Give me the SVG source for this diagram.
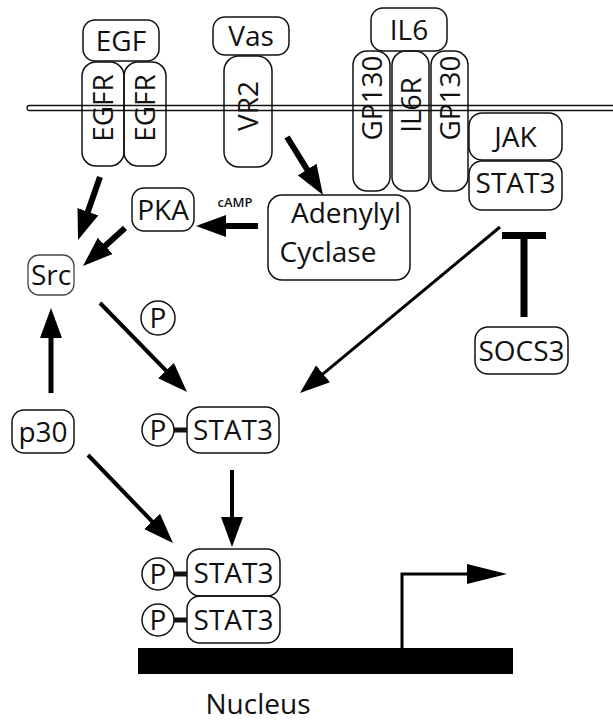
<svg xmlns="http://www.w3.org/2000/svg" width="613" height="721" viewBox="0 0 613 721">
<defs>
<style>
.b{fill:none;stroke:#111;stroke-width:1.5}
.t{font-family:"Open Sans","Liberation Sans",sans-serif;font-size:28px;fill:#111;text-anchor:middle}
.c{fill:#fff;stroke:#111;stroke-width:1.5}
.a{fill:none;stroke:#000;marker-end:url(#ah)}
</style>
<marker id="ah" viewBox="0 0 30 22" markerWidth="30" markerHeight="22" refX="20" refY="11" orient="auto" markerUnits="userSpaceOnUse"><path d="M0,0 L30,11 L0,22 z" fill="#000"/></marker>
<marker id="ah2" viewBox="0 0 40 20" markerWidth="40" markerHeight="20" refX="30" refY="10" orient="auto" markerUnits="userSpaceOnUse"><path d="M0,0 L40,10 L0,20 z" fill="#000"/></marker>
</defs>
<rect width="613" height="721" fill="#fff"/>
<g id="membrane"><rect x="27" y="105.5" width="600" height="5" rx="2.5" fill="#fff" stroke="#111" stroke-width="1.3"/></g>
<g id="EGF"><rect class="b" x="83" y="20" width="76" height="41" rx="12"/><text class="t" x="121" y="50.5">EGF</text></g>
<g id="EGFR1"><rect class="b" x="82" y="62" width="42" height="104" rx="14"/><text class="t" transform="translate(103,108) rotate(-90)" y="10">EGFR</text></g>
<g id="EGFR2"><rect class="b" x="124" y="62" width="42" height="104" rx="14"/><text class="t" transform="translate(145,108) rotate(-90)" y="10">EGFR</text></g>
<g id="Vas"><rect class="b" x="213" y="17" width="76" height="38" rx="12"/><text class="t" x="251" y="46">Vas</text></g>
<g id="VR2"><rect class="b" x="224" y="56" width="48" height="111" rx="15"/><text class="t" transform="translate(248,106) rotate(-90)" y="10">VR2</text></g>
<g id="IL6"><rect class="b" x="371" y="8" width="76" height="43" rx="12"/><text class="t" x="409" y="39.5">IL6</text></g>
<g id="GP130a"><rect class="b" x="353" y="51" width="37" height="140" rx="14"/><text class="t" transform="translate(371.5,98) rotate(-90)" y="10">GP130</text></g>
<g id="IL6R"><rect class="b" x="392" y="51" width="37" height="140" rx="14"/><text class="t" transform="translate(410.5,105) rotate(-90)" y="10">IL6R</text></g>
<g id="GP130b"><rect class="b" x="431" y="51" width="37" height="140" rx="14"/><text class="t" transform="translate(449.5,98) rotate(-90)" y="10">GP130</text></g>
<g id="JAK"><rect class="b" x="469" y="113" width="93" height="47" rx="13"/><text class="t" x="515.5" y="146.5">JAK</text></g>
<g id="STAT3top"><rect class="b" x="469" y="161" width="93" height="49" rx="13"/><text class="t" x="515.5" y="193">STAT3</text></g>
<g id="PKA"><rect class="b" x="132" y="188" width="62" height="43" rx="12"/><text class="t" x="163" y="219.5">PKA</text></g>
<g id="cAMP"><text x="235" y="207" font-family="'Open Sans','Liberation Sans',sans-serif" font-size="13" font-weight="600" text-anchor="middle" fill="#111">cAMP</text></g>
<g id="Adenylyl"><rect class="b" x="268" y="195" width="142" height="85" rx="14"/><text class="t" x="346" y="223">Adenylyl</text><text class="t" x="328" y="262">Cyclase</text></g>
<g id="Src"><rect x="28" y="255" width="46" height="40" rx="11" fill="none" stroke="#444" stroke-width="1.3"/><text class="t" x="51" y="285">Src</text></g>
<g id="P1"><circle class="c" cx="158" cy="318" r="17"/><text class="t" x="158" y="328">P</text></g>
<g id="p30"><rect class="b" x="12" y="410" width="62" height="43" rx="12"/><text class="t" x="43" y="441.5">p30</text></g>
<g id="STAT3mid"><line x1="173" y1="430" x2="187" y2="430" stroke="#111" stroke-width="5"/><circle class="c" cx="158" cy="430" r="16"/><text class="t" x="158" y="440">P</text><rect class="b" x="187" y="407" width="92" height="46" rx="13"/><text class="t" x="233" y="440">STAT3</text></g>
<g id="SOCS3"><rect class="b" x="475" y="327" width="93" height="47" rx="13"/><text class="t" x="521.5" y="360.5">SOCS3</text></g>
<g id="STAT3d1"><line x1="172" y1="574" x2="187" y2="574" stroke="#111" stroke-width="5"/><circle class="c" cx="158" cy="574" r="16"/><text class="t" x="158" y="584">P</text><rect class="b" x="187" y="549" width="93" height="47" rx="13"/><text class="t" x="233.5" y="582.5">STAT3</text></g>
<g id="STAT3d2"><line x1="172" y1="620" x2="187" y2="620" stroke="#111" stroke-width="5"/><circle class="c" cx="158" cy="620" r="16"/><text class="t" x="158" y="630">P</text><rect class="b" x="187" y="596" width="93" height="47" rx="13"/><text class="t" x="233.5" y="629.5">STAT3</text></g>
<g id="DNA"><rect x="138" y="648" width="375" height="26" fill="#000"/></g>
<g id="Nucleus"><text class="t" x="258" y="714">Nucleus</text></g>
<g id="connectors">
<line class="a" x1="100" y1="177" x2="81.3" y2="230.6" stroke-width="6"/>
<line class="a" x1="125" y1="228" x2="90.4" y2="259.3" stroke-width="6"/>
<line class="a" x1="258" y1="226" x2="206" y2="226" stroke-width="6"/>
<line class="a" x1="287" y1="137" x2="317.7" y2="186.5" stroke-width="6"/>
<line class="a" x1="51" y1="393" x2="51" y2="318" stroke-width="5"/>
<line class="a" x1="100" y1="303" x2="180" y2="384.9" stroke-width="4"/>
<line class="a" x1="500" y1="227" x2="307.7" y2="386.6" stroke-width="3"/>
<line class="a" x1="232" y1="470" x2="232" y2="537" stroke-width="4"/>
<line class="a" x1="88" y1="455" x2="166" y2="535.8" stroke-width="4"/>
<path d="M524,317 V236 M502,235.5 H546" fill="none" stroke="#000" stroke-width="7"/>
<path d="M402,648 V574 H497" fill="none" stroke="#000" stroke-width="3" marker-end="url(#ah2)"/>
</g>
</svg>
